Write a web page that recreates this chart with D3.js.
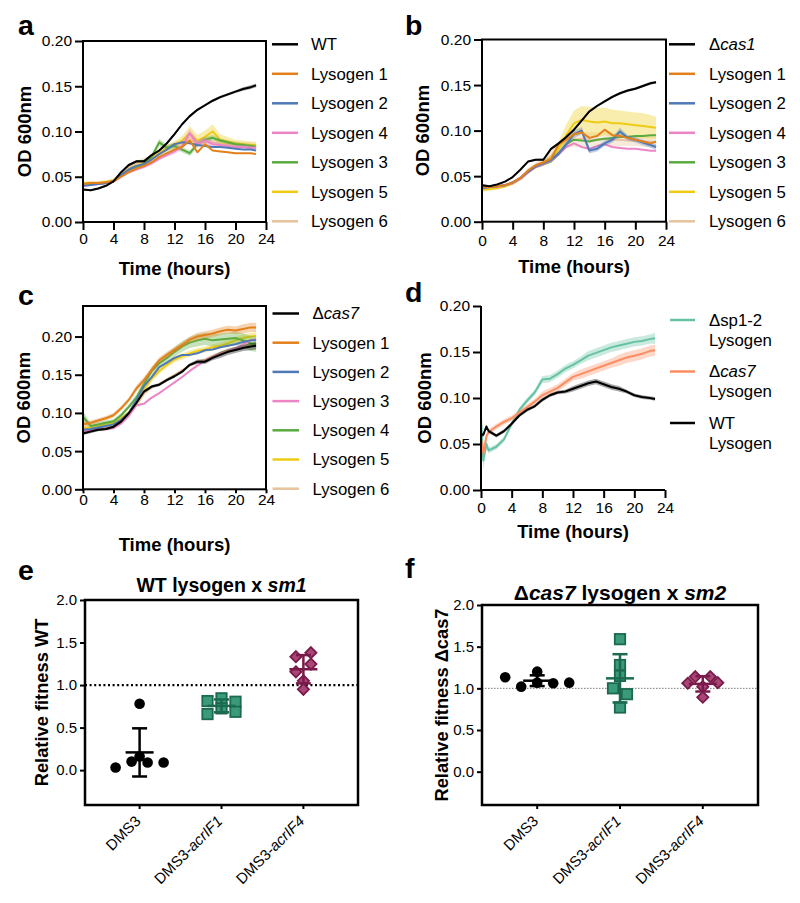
<!DOCTYPE html>
<html><head><meta charset="utf-8">
<script src="https://cdn.jsdelivr.net/npm/d3@7"></script>
<style>body{margin:0;background:#fff}svg{display:block}text{font-family:"Liberation Sans",Arial,Helvetica,sans-serif}</style>
</head><body><svg id="chart" width="800" height="903"></svg>
<script>
// ---------------- DATA ----------------
const hours  = [0,1,2,3,4,5,6,7,8,9,10,11,12,13,14,15,16,17,18,19,20,21,22,22.7];
const hoursD = [0,0.3,0.7,1,2,3,4,5,6,7,8,9,10,11,12,13,14,15,16,17,18,19,20,21,22,22.7];
const xTickHours = [0,4,8,12,16,20,24];
const odTicks = [0,0.05,0.10,0.15,0.20];
const fitTicks = [0,0.5,1.0,1.5,2.0];

// panel a
const namesA = ['WT','Lysogen 1','Lysogen 2','Lysogen 4','Lysogen 3','Lysogen 5','Lysogen 6'];
const odA_WT = [0.036,0.035,0.037,0.040,0.045,0.055,0.063,0.067,0.067,0.074,0.079,0.087,0.097,0.108,0.117,0.124,0.129,0.134,0.138,0.141,0.144,0.147,0.149,0.151];
const odA_L1 = [0.042,0.043,0.043,0.044,0.045,0.050,0.055,0.059,0.062,0.066,0.072,0.076,0.080,0.083,0.090,0.077,0.086,0.079,0.078,0.077,0.076,0.076,0.076,0.075];
const odA_L2 = [0.040,0.041,0.042,0.043,0.045,0.052,0.058,0.062,0.064,0.069,0.075,0.080,0.086,0.088,0.087,0.085,0.084,0.083,0.083,0.082,0.081,0.080,0.080,0.079];
const odA_L4 = [0.040,0.041,0.042,0.043,0.045,0.050,0.055,0.058,0.061,0.065,0.070,0.074,0.078,0.084,0.098,0.086,0.090,0.086,0.085,0.084,0.083,0.083,0.082,0.082];
const odA_L3 = [0.041,0.042,0.042,0.043,0.045,0.051,0.057,0.060,0.064,0.072,0.088,0.082,0.084,0.080,0.076,0.086,0.091,0.093,0.090,0.088,0.086,0.085,0.084,0.083];
const odA_L5 = [0.043,0.043,0.043,0.044,0.046,0.052,0.058,0.062,0.065,0.070,0.076,0.081,0.085,0.090,0.098,0.090,0.094,0.100,0.091,0.089,0.087,0.086,0.085,0.085];
const odA_L6 = [0.042,0.043,0.043,0.044,0.046,0.053,0.060,0.065,0.068,0.072,0.077,0.082,0.086,0.088,0.090,0.088,0.089,0.088,0.087,0.086,0.086,0.085,0.085,0.084];
const semA_WT = [.001,.001,.001,.001,.001,.001,.0015,.0015,.0015,.0015,.0015,.0015,.0015,.0015,.0015,.0015,.0015,.0015,.0015,.0015,.0015,.002,.002,.002];
const semA_L4 = [.001,.001,.001,.001,.001,.001,.001,.0015,.0015,.002,.002,.002,.003,.004,.005,.004,.004,.003,.002,.002,.002,.002,.002,.002];
const semA_L3 = [.001,.001,.001,.001,.001,.001,.0015,.0015,.002,.003,.004,.003,.003,.003,.003,.003,.003,.003,.002,.002,.002,.002,.002,.002];
const semA_L5 = [.002,.002,.002,.002,.002,.002,.002,.002,.002,.003,.003,.004,.004,.005,.008,.006,.007,.008,.006,.005,.004,.004,.004,.004];
const semA_L6 = [.002,.002,.002,.002,.002,.003,.003,.003,.003,.003,.003,.003,.003,.003,.004,.003,.003,.003,.003,.003,.003,.003,.003,.003];

// panel b
const namesB = ['Δcas1','Lysogen 1','Lysogen 2','Lysogen 4','Lysogen 3','Lysogen 5','Lysogen 6'];
const odB_WT = [0.040,0.039,0.041,0.044,0.049,0.057,0.066,0.068,0.068,0.080,0.086,0.093,0.101,0.111,0.121,0.127,0.132,0.137,0.141,0.144,0.146,0.149,0.152,0.153];
const odB_L1 = [0.038,0.038,0.039,0.040,0.043,0.048,0.056,0.062,0.065,0.069,0.085,0.090,0.096,0.098,0.092,0.094,0.101,0.095,0.094,0.092,0.090,0.088,0.086,0.088];
const odB_L2 = [0.037,0.038,0.039,0.040,0.043,0.048,0.055,0.061,0.064,0.068,0.075,0.085,0.096,0.100,0.078,0.080,0.086,0.090,0.099,0.092,0.090,0.087,0.084,0.082];
const odB_L4 = [0.037,0.038,0.038,0.040,0.042,0.047,0.054,0.060,0.063,0.067,0.074,0.082,0.086,0.082,0.080,0.083,0.085,0.082,0.081,0.080,0.080,0.079,0.078,0.078];
const odB_L3 = [0.037,0.038,0.039,0.040,0.043,0.047,0.054,0.060,0.063,0.066,0.074,0.085,0.090,0.089,0.088,0.090,0.091,0.092,0.093,0.093,0.094,0.094,0.095,0.095];
const odB_L5 = [0.035,0.036,0.037,0.039,0.042,0.047,0.055,0.061,0.064,0.069,0.080,0.095,0.108,0.112,0.110,0.109,0.110,0.108,0.108,0.107,0.106,0.105,0.104,0.103];
const odB_L6 = [0.037,0.038,0.039,0.040,0.043,0.048,0.056,0.062,0.066,0.072,0.082,0.088,0.090,0.091,0.090,0.090,0.091,0.090,0.090,0.089,0.089,0.088,0.088,0.087];
const semB_WT = [.001,.001,.001,.001,.001,.001,.001,.001,.0015,.0015,.0015,.0015,.0015,.0015,.0015,.0015,.0015,.0015,.0015,.0015,.0015,.0015,.0015,.0015];
const semB_L2 = [.001,.001,.001,.001,.001,.001,.002,.002,.002,.002,.003,.003,.004,.004,.003,.003,.003,.003,.004,.003,.003,.003,.003,.003];
const semB_L5 = [.002,.002,.002,.002,.002,.002,.002,.002,.003,.004,.008,.012,.014,.015,.016,.016,.015,.015,.014,.014,.014,.014,.013,.012];
const semB_L6 = [.002,.002,.002,.002,.002,.002,.003,.003,.004,.005,.006,.007,.008,.008,.008,.008,.007,.007,.007,.006,.006,.006,.006,.006];

// panel c
const namesC = ['Δcas7','Lysogen 1','Lysogen 2','Lysogen 3','Lysogen 4','Lysogen 5','Lysogen 6'];
const odC_WT = [0.073,0.0755,0.078,0.079,0.082,0.0887,0.0996,0.113,0.128,0.1345,0.137,0.143,0.148,0.154,0.163,0.167,0.167,0.172,0.176,0.180,0.1825,0.185,0.187,0.188];
const odC_L1 = [0.085,0.087,0.090,0.093,0.097,0.106,0.117,0.132,0.143,0.156,0.169,0.176,0.1825,0.189,0.196,0.200,0.202,0.204,0.207,0.209,0.208,0.210,0.212,0.212];
const odC_L2 = [0.078,0.079,0.081,0.083,0.085,0.091,0.100,0.117,0.135,0.147,0.160,0.166,0.172,0.176,0.176,0.178,0.182,0.183,0.186,0.188,0.190,0.193,0.195,0.195];
const odC_L3 = [0.076,0.077,0.078,0.079,0.080,0.086,0.096,0.110,0.112,0.120,0.126,0.133,0.140,0.147,0.155,0.162,0.168,0.173,0.177,0.180,0.184,0.190,0.195,0.197];
const odC_L4 = [0.095,0.083,0.085,0.087,0.089,0.097,0.108,0.120,0.138,0.155,0.165,0.172,0.180,0.187,0.192,0.195,0.197,0.195,0.196,0.197,0.198,0.195,0.191,0.190];
const odC_L5 = [0.080,0.081,0.083,0.085,0.087,0.093,0.100,0.114,0.130,0.145,0.155,0.163,0.170,0.174,0.178,0.181,0.183,0.186,0.188,0.191,0.195,0.198,0.200,0.201];
const odC_L6 = [0.077,0.078,0.080,0.081,0.083,0.089,0.098,0.110,0.125,0.133,0.138,0.144,0.150,0.156,0.162,0.167,0.170,0.175,0.179,0.182,0.185,0.187,0.190,0.191];
const semC_WT = [.002,.002,.002,.002,.002,.002,.002,.002,.002,.002,.002,.002,.002,.002,.002,.003,.003,.003,.004,.004,.004,.004,.005,.005];
const semC_L1 = [.004,.003,.003,.003,.003,.003,.003,.004,.004,.004,.004,.004,.004,.004,.004,.005,.005,.005,.005,.005,.005,.006,.006,.006];
const semC_L4 = [.008,.003,.003,.003,.003,.003,.003,.004,.004,.005,.005,.006,.006,.007,.007,.008,.008,.008,.008,.008,.009,.009,.010,.010];
const semC_L5 = [.003,.003,.003,.003,.003,.003,.003,.003,.004,.004,.004,.004,.004,.004,.004,.004,.004,.004,.004,.005,.005,.005,.005,.005];

// panel d
const namesD = ['Δsp1-2\nLysogen','Δcas7\nLysogen','WT\nLysogen'];
const odD_SP = [0.077,0.032,0.050,0.043,0.047,0.055,0.072,0.087,0.097,0.106,0.120,0.121,0.126,0.132,0.136,0.141,0.146,0.149,0.152,0.155,0.157,0.159,0.161,0.162,0.164,0.165];
const odD_C7 = [0.055,0.040,0.058,0.063,0.069,0.074,0.078,0.084,0.090,0.096,0.103,0.107,0.111,0.117,0.123,0.126,0.129,0.132,0.135,0.138,0.141,0.144,0.146,0.148,0.151,0.152];
const odD_WT = [0.060,0.060,0.069,0.064,0.059,0.064,0.072,0.081,0.087,0.091,0.098,0.103,0.106,0.107,0.110,0.113,0.116,0.118,0.115,0.112,0.110,0.107,0.103,0.101,0.100,0.099];
const semD_SP = [.008,.010,.006,.003,.003,.003,.003,.003,.003,.003,.004,.004,.004,.004,.004,.004,.005,.005,.005,.005,.005,.005,.005,.005,.005,.006];
const semD_C7 = [.006,.008,.004,.003,.003,.003,.003,.003,.003,.003,.004,.004,.004,.004,.004,.005,.005,.005,.005,.005,.006,.006,.006,.006,.006,.006];
const semD_WT = [.002,.002,.002,.002,.002,.002,.002,.002,.002,.002,.002,.002,.002,.002,.003,.003,.003,.003,.003,.003,.003,.002,.002,.002,.002,.002];

// panels e, f (relative fitness, six replicates each)
const fitCats = ['DMS3','DMS3-acrIF1','DMS3-acrIF4'];
const fitE_DMS3 = [0.03,0.10,0.09,0.09,0.16,0.78];
const fitE_IF1  = [0.812,0.659,0.844,0.726,0.804,0.686];
const fitE_IF4  = [1.333,1.38,1.156,1.247,1.05,0.95];
const fitF_DMS3 = [1.133,1.02,1.20,1.068,1.061,1.068];
const fitF_IF1  = [1.59,1.28,1.149,1.00,0.93,0.77];
const fitF_IF4  = [1.14,1.061,1.14,1.02,0.893,1.068];

// ---------------- STYLE ----------------
const FONT = '"Liberation Sans", Arial, Helvetica, sans-serif';
const lysoColors = ['#000000','#e3801c','#4f79b7','#ec84c6','#5aab3f','#eecb14','#e6c39c'];
const dColors = ['#66c2a5','#fc8d62','#000000'];
const fitFill = ['#000000','#3a9a7b','#a84676'];
const fitStroke = ['#000000','#1b6a4f','#7a1a4a'];
const ITAL = /(cas\d+|acrIF\d+|sm\d+)/;

const svg = d3.select('#chart');

function rich(sel, str, useItal = true) {
  str.split(ITAL).forEach(part => {
    if (!part) return;
    const t = sel.append('tspan').text(part);
    const m = part.match(ITAL);
    if (useItal && m && m[0] === part) t.attr('font-style', 'italic');
  });
}

function panelLetter(ch, x, y) {
  svg.append('text').attr('x', x).attr('y', y).attr('font-size', 28.5)
    .attr('font-weight', 'bold').text(ch);
}

function growthPanel(p) {
  const g = svg.append('g');
  const x = d3.scaleLinear().domain([0, 24]).range([p.left, p.right]);
  const y = d3.scaleLinear().domain(p.yDomain).range([p.bottom, p.top]);

  const area = d3.area().x(d => x(d.t)).y0(d => y(d.v - d.s)).y1(d => y(d.v + d.s));
  const line = d3.line().x(d => x(d.t)).y(d => y(d.v));

  p.order.forEach(i => {
    const s = p.series[i];
    const pts = s.vals.map((v, k) => ({ t: p.times[k], v: v, s: s.sem ? s.sem[k] : 0 }));
    if (s.sem) g.append('path').datum(pts).attr('d', area)
      .attr('fill', p.colors[i]).attr('fill-opacity', 0.35).attr('stroke', 'none');
    g.append('path').datum(pts).attr('d', line).attr('fill', 'none')
      .attr('stroke', p.colors[i]).attr('stroke-width', 2).attr('stroke-linejoin', 'round');
  });

  // axes
  const gy = g.append('g').attr('transform', `translate(${p.left},0)`)
    .call(d3.axisLeft(y).tickValues(odTicks).tickFormat(d3.format('.2f')).tickSize(8).tickPadding(3));
  const gx = g.append('g').attr('transform', `translate(0,${p.bottom})`)
    .call(d3.axisBottom(x).tickValues(xTickHours).tickFormat(d3.format('d')).tickSize(p.xTick).tickPadding(p.xPad));
  [gy, gx].forEach(a => {
    a.attr('font-family', FONT).attr('font-size', 15.5);
    a.select('.domain').remove();
    a.selectAll('.tick line').attr('stroke', '#000').attr('stroke-width', 2);
    a.selectAll('.tick text').attr('fill', '#000');
  });
  if (p.box) {
    g.append('rect').attr('x', p.left).attr('y', p.top).attr('width', p.right - p.left)
      .attr('height', p.bottom - p.top).attr('fill', 'none').attr('stroke', '#000').attr('stroke-width', 2);
  } else {
    g.append('path').attr('d', `M${p.left},${p.top}V${p.bottom}H${p.right}`)
      .attr('fill', 'none').attr('stroke', '#000').attr('stroke-width', 2);
  }

  // titles
  g.append('text').attr('x', (p.left + p.right) / 2).attr('y', p.xTitleY).attr('text-anchor', 'middle')
    .attr('font-size', 18.5).attr('font-weight', 'bold').text('Time (hours)');
  g.append('text').attr('transform', `translate(${p.yTitleX},${(p.top + p.bottom) / 2}) rotate(-90)`)
    .attr('text-anchor', 'middle').attr('font-size', 18.5).attr('font-weight', 'bold').text('OD 600nm');

  // legend
  p.names.forEach((name, i) => {
    const yy = p.legY + i * p.legStep;
    g.append('line').attr('x1', p.legX1).attr('x2', p.legX2).attr('y1', yy).attr('y2', yy)
      .attr('stroke', p.colors[i]).attr('stroke-width', 2.5);
    name.split('\n').forEach((ln, j) => {
      const t = g.append('text').attr('x', p.legTX).attr('y', yy + j * 20).attr('dy', '0.35em')
        .attr('font-size', 16.8);
      rich(t, ln);
    });
  });
}

function swarm(vals, y, thresh, spacing) {
  const idx = d3.range(vals.length).sort((a, b) => vals[a] - vals[b]);
  const off = new Array(vals.length).fill(0);
  let i = 0;
  while (i < idx.length) {
    const start = y(vals[idx[i]]);
    const row = [idx[i]];
    let j = i + 1;
    while (j < idx.length && start - y(vals[idx[j]]) < thresh) { row.push(idx[j]); j++; }
    row.sort((a, b) => a - b);
    row.forEach((k, m) => { off[k] = (m - (row.length - 1) / 2) * spacing; });
    i = j;
  }
  return off;
}

function marker(g, kind, cx, cy) {
  if (kind === 0) {
    g.append('circle').attr('cx', cx).attr('cy', cy).attr('r', 5.3).attr('fill', '#000');
  } else if (kind === 1) {
    g.append('rect').attr('x', cx - 5.2).attr('y', cy - 5.2).attr('width', 10.4).attr('height', 10.4)
      .attr('fill', fitFill[1]).attr('stroke', fitStroke[1]).attr('stroke-width', 1.8);
  } else {
    const r = 5.6;
    g.append('path').attr('d', `M${cx},${cy - r}L${cx + r},${cy}L${cx},${cy + r}L${cx - r},${cy}Z`)
      .attr('fill', fitFill[2]).attr('stroke', fitStroke[2]).attr('stroke-width', 1.8);
  }
}

const markerThresh = [10, 10, 8];
const markerSpacing = [16, 14, 15];

function fitnessPanel(p) {
  const g = svg.append('g');
  const y = d3.scaleLinear().domain(p.yDomain).range([p.bottom, p.top]);
  const x = d3.scalePoint().domain(fitCats).range([p.left, p.right]).padding(2 / 3);

  g.append('line').attr('x1', p.left).attr('x2', p.right).attr('y1', y(1)).attr('y2', y(1))
    .attr('stroke', p.refColor).attr('stroke-width', p.refWidth).attr('stroke-dasharray', p.refDash);

  const gy = g.append('g').attr('transform', `translate(${p.left},0)`)
    .call(d3.axisLeft(y).tickValues(fitTicks).tickFormat(d3.format('.1f')).tickSize(5).tickPadding(3));
  gy.attr('font-family', FONT).attr('font-size', 15);
  gy.select('.domain').remove();
  gy.selectAll('.tick line').attr('stroke', '#000').attr('stroke-width', 2);
  gy.selectAll('.tick text').attr('fill', '#000');

  p.groups.forEach((vals, gi) => {
    const cx = x(fitCats[gi]);
    const off = swarm(vals, y, markerThresh[gi], markerSpacing[gi]);
    vals.forEach((v, k) => marker(g, gi, cx + off[k], y(v)));
    const m = d3.mean(vals), sd = d3.deviation(vals);
    const col = fitStroke[gi];
    const eb = g.append('g').attr('stroke', col).attr('stroke-width', 2.5).attr('fill', 'none');
    eb.append('line').attr('x1', cx).attr('x2', cx).attr('y1', y(m - sd)).attr('y2', y(m + sd));
    eb.append('line').attr('x1', cx - 14).attr('x2', cx + 14).attr('y1', y(m)).attr('y2', y(m));
    [m - sd, m + sd].forEach(v => eb.append('line').attr('x1', cx - 7.5).attr('x2', cx + 7.5).attr('y1', y(v)).attr('y2', y(v)));

    g.append('line').attr('x1', cx).attr('x2', cx).attr('y1', p.bottom).attr('y2', p.bottom + 4)
      .attr('stroke', '#000').attr('stroke-width', 2);
    const t = g.append('text').attr('transform', `translate(${cx + 2},${p.bottom + 17}) rotate(-45)`)
      .attr('text-anchor', 'end').attr('font-size', 15);
    rich(t, fitCats[gi]);
  });

  g.append('rect').attr('x', p.left).attr('y', p.top).attr('width', p.right - p.left)
    .attr('height', p.bottom - p.top).attr('fill', 'none').attr('stroke', '#000').attr('stroke-width', 2.5);

  const tt = g.append('text').attr('x', (p.left + p.right) / 2).attr('y', p.titleY).attr('text-anchor', 'middle')
    .attr('font-size', p.titleSize).attr('font-weight', 'bold');
  rich(tt, p.title);
  const yt = g.append('text').attr('transform', `translate(${p.yTitleX},${(p.top + p.bottom) / 2}) rotate(-90)`)
    .attr('text-anchor', 'middle').attr('font-size', 18.3).attr('font-weight', 'bold');
  rich(yt, p.yTitle, false);
}

// ---------------- PANELS ----------------
growthPanel({
  left: 83, right: 266, top: 41, bottom: 222, yDomain: [0, 0.2], times: hours, box: true,
  xTick: 8, xPad: 2.5, xTitleY: 275, yTitleX: 31,
  names: namesA, colors: lysoColors, order: [6, 5, 4, 3, 2, 1, 0],
  series: [{ vals: odA_WT, sem: semA_WT }, { vals: odA_L1 }, { vals: odA_L2 }, { vals: odA_L4, sem: semA_L4 },
           { vals: odA_L3, sem: semA_L3 }, { vals: odA_L5, sem: semA_L5 }, { vals: odA_L6, sem: semA_L6 }],
  legX1: 272, legX2: 298, legTX: 311, legY: 44.3, legStep: 29.5
});
growthPanel({
  left: 482, right: 666, top: 39.5, bottom: 221.7, yDomain: [0, 0.2], times: hours, box: true,
  xTick: 8, xPad: 5, xTitleY: 273, yTitleX: 429,
  names: namesB, colors: lysoColors, order: [6, 5, 4, 3, 2, 1, 0],
  series: [{ vals: odB_WT, sem: semB_WT }, { vals: odB_L1 }, { vals: odB_L2, sem: semB_L2 }, { vals: odB_L4 },
           { vals: odB_L3 }, { vals: odB_L5, sem: semB_L5 }, { vals: odB_L6, sem: semB_L6 }],
  legX1: 669, legX2: 695, legTX: 709, legY: 44.3, legStep: 29.5
});
growthPanel({
  left: 83, right: 266, top: 306, bottom: 489.3, yDomain: [0, 0.24], times: hours, box: true,
  xTick: 4, xPad: 0.5, xTitleY: 551, yTitleX: 30,
  names: namesC, colors: lysoColors, order: [6, 5, 4, 3, 2, 1, 0],
  series: [{ vals: odC_WT, sem: semC_WT }, { vals: odC_L1, sem: semC_L1 }, { vals: odC_L2 }, { vals: odC_L3 },
           { vals: odC_L4, sem: semC_L4 }, { vals: odC_L5, sem: semC_L5 }, { vals: odC_L6 }],
  legX1: 272.5, legX2: 299, legTX: 312.5, legY: 313.5, legStep: 29.2
});
growthPanel({
  left: 481, right: 665, top: 306, bottom: 490, yDomain: [0, 0.2], times: hoursD, box: false,
  xTick: 8, xPad: 4, xTitleY: 538, yTitleX: 431,
  names: namesD, colors: dColors, order: [0, 1, 2],
  series: [{ vals: odD_SP, sem: semD_SP }, { vals: odD_C7, sem: semD_C7 }, { vals: odD_WT, sem: semD_WT }],
  legX1: 670, legX2: 695, legTX: 709, legY: 320, legStep: 51.5
});

fitnessPanel({
  left: 85, right: 358, top: 600, bottom: 805, yDomain: [-0.41, 2.0],
  groups: [fitE_DMS3, fitE_IF1, fitE_IF4],
  refColor: '#000', refWidth: 2.2, refDash: '2,2.6',
  title: 'WT lysogen x sm1', titleY: 592, titleSize: 19.5,
  yTitle: 'Relative fitness WT', yTitleX: 48
});
fitnessPanel({
  left: 482, right: 758, top: 605, bottom: 805, yDomain: [-0.4, 2.0],
  groups: [fitF_DMS3, fitF_IF1, fitF_IF4],
  refColor: '#777', refWidth: 1, refDash: '1.5,1.5',
  title: 'Δcas7 lysogen x sm2', titleY: 600, titleSize: 21,
  yTitle: 'Relative fitness Δcas7', yTitleX: 448
});

panelLetter('a', 18, 35);
panelLetter('b', 405, 35);
panelLetter('c', 18, 305);
panelLetter('d', 405, 302);
panelLetter('e', 18, 580);
panelLetter('f', 405, 578);
</script>
</body></html>
